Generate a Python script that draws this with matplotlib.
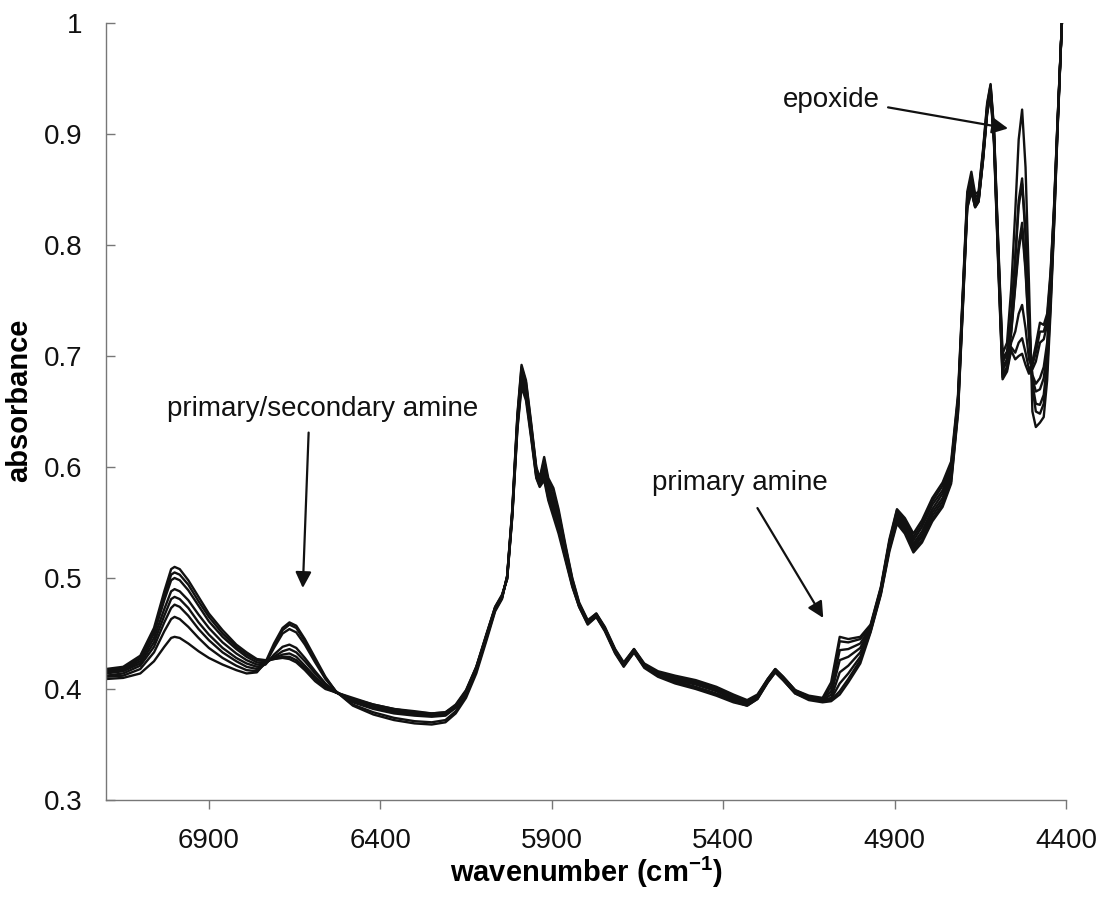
import matplotlib
matplotlib.use("Agg")
import matplotlib.pyplot as plt

# ---------------- data ----------------
wavenumber = [
    7200, 7150, 7100, 7060, 7030, 7010, 7000, 6985, 6960, 6930,
    6900, 6860, 6820, 6790, 6760, 6735, 6710, 6685, 6665, 6645,
    6620, 6590, 6560, 6530, 6480, 6420, 6360, 6300, 6250, 6210,
    6180, 6150, 6120, 6090, 6065, 6045, 6030, 6015, 6000, 5988,
    5975, 5960, 5945, 5935, 5922, 5910, 5895, 5880, 5860, 5840,
    5820, 5795, 5770, 5745, 5715, 5690, 5660, 5630, 5590, 5540,
    5480, 5420, 5370, 5330, 5300, 5270, 5248, 5225, 5190, 5150,
    5110, 5085, 5060, 5035, 5000, 4970, 4940, 4915, 4893, 4870,
    4845, 4820, 4790, 4760, 4735, 4715, 4700, 4688, 4676, 4665,
    4655, 4642, 4630, 4620, 4610, 4598, 4585, 4572, 4560, 4548,
    4538, 4528, 4518, 4508, 4498, 4488, 4476, 4465, 4455, 4445,
    4435, 4425, 4412]

spectrum_1 = [
    .409, .410, .414, .425, .438, .446, .447, .446, .441, .434,
    .428, .422, .417, .414, .415, .424, .441, .455, .460, .457,
    .445, .428, .411, .398, .385, .377, .372, .369, .368, .370,
    .378, .392, .414, .444, .470, .481, .502, .562, .648, .692,
    .678, .640, .600, .590, .609, .590, .581, .562, .530, .500,
    .478, .462, .468, .456, .436, .424, .436, .423, .416, .412,
    .408, .402, .395, .390, .395, .409, .418, .411, .399, .394,
    .392, .406, .447, .445, .447, .458, .492, .535, .562, .554,
    .540, .552, .572, .586, .605, .665, .765, .848, .866, .846,
    .848, .886, .928, .945, .905, .805, .702, .712, .760, .830,
    .895, .922, .870, .765, .650, .636, .640, .645, .678, .740,
    .815, .900, 1.0]

spectrum_2 = [
    .411, .412, .418, .433, .452, .463, .465, .463, .456, .446,
    .437, .428, .421, .417, .416, .423, .439, .453, .458, .455,
    .443, .426, .410, .398, .386, .379, .374, .371, .370, .372,
    .380, .394, .416, .446, .471, .482, .502, .561, .646, .690,
    .676, .638, .599, .589, .606, .587, .578, .559, .528, .499,
    .477, .461, .468, .455, .435, .423, .436, .422, .415, .411,
    .407, .401, .394, .389, .394, .409, .418, .411, .399, .393,
    .391, .402, .443, .442, .445, .457, .491, .533, .561, .552,
    .537, .549, .569, .583, .602, .662, .762, .845, .862, .843,
    .846, .884, .926, .944, .903, .802, .698, .704, .735, .790,
    .840, .860, .812, .735, .672, .650, .648, .657, .688, .746,
    .818, .902, 1.0]

spectrum_3 = [
    .412, .414, .421, .438, .460, .473, .476, .474, .466, .454,
    .444, .433, .425, .420, .418, .423, .437, .450, .454, .451,
    .440, .424, .409, .398, .388, .382, .378, .376, .375, .376,
    .383, .396, .418, .447, .472, .482, .501, .560, .644, .686,
    .673, .636, .597, .587, .603, .584, .574, .556, .526, .497,
    .476, .461, .467, .455, .435, .423, .435, .422, .414, .410,
    .406, .400, .393, .388, .393, .408, .417, .410, .398, .393,
    .391, .398, .435, .436, .441, .456, .490, .532, .559, .550,
    .534, .546, .566, .579, .599, .660, .760, .842, .858, .840,
    .844, .882, .924, .942, .901, .799, .694, .702, .732, .786,
    .835, .855, .808, .733, .675, .657, .656, .665, .694, .750,
    .820, .903, 1.0]

spectrum_4 = [
    .414, .416, .423, .442, .466, .481, .483, .481, .473, .460,
    .449, .437, .428, .423, .420, .422, .431, .438, .440, .437,
    .428, .416, .405, .397, .389, .383, .379, .377, .376, .377,
    .384, .397, .418, .448, .472, .483, .501, .559, .642, .684,
    .671, .634, .596, .586, .600, .581, .570, .552, .524, .496,
    .476, .460, .467, .454, .434, .422, .435, .421, .414, .409,
    .405, .399, .392, .387, .393, .408, .417, .410, .398, .392,
    .390, .395, .426, .429, .437, .455, .489, .530, .557, .548,
    .531, .542, .562, .576, .596, .657, .758, .840, .855, .838,
    .842, .880, .922, .940, .899, .796, .690, .697, .722, .765,
    .800, .820, .780, .720, .680, .668, .670, .680, .705, .757,
    .824, .905, 1.0]

spectrum_5 = [
    .415, .417, .425, .446, .472, .488, .490, .488, .480, .467,
    .455, .442, .432, .426, .422, .423, .429, .434, .436, .433,
    .425, .414, .404, .397, .390, .384, .380, .378, .377, .378,
    .384, .397, .419, .448, .473, .483, .500, .558, .640, .681,
    .668, .632, .594, .585, .597, .578, .566, .549, .522, .495,
    .475, .460, .466, .454, .434, .422, .434, .421, .413, .408,
    .404, .398, .391, .387, .392, .407, .416, .409, .397, .392,
    .390, .392, .415, .421, .433, .454, .488, .529, .555, .546,
    .529, .539, .559, .572, .593, .655, .755, .838, .852, .836,
    .841, .879, .921, .939, .897, .793, .687, .695, .720, .762,
    .795, .815, .776, .718, .683, .675, .680, .690, .712, .762,
    .826, .906, 1.0]

spectrum_6 = [
    .416, .418, .427, .450, .480, .498, .500, .498, .489, .475,
    .461, .447, .436, .429, .424, .424, .428, .431, .432, .429,
    .421, .411, .402, .397, .391, .385, .381, .379, .377, .378,
    .385, .398, .419, .449, .473, .484, .500, .557, .638, .678,
    .666, .630, .593, .584, .594, .575, .562, .546, .520, .494,
    .475, .459, .466, .453, .433, .421, .434, .420, .412, .407,
    .402, .396, .390, .386, .392, .407, .416, .409, .397, .391,
    .389, .391, .405, .414, .429, .453, .487, .527, .553, .544,
    .527, .537, .556, .569, .590, .652, .753, .836, .850, .835,
    .840, .878, .920, .938, .895, .790, .684, .690, .712, .722,
    .738, .746, .725, .697, .688, .695, .712, .715, .728, .770,
    .830, .908, 1.0]

spectrum_7 = [
    .417, .419, .428, .452, .484, .503, .505, .503, .494, .479,
    .465, .450, .438, .431, .426, .425, .427, .429, .429, .426,
    .419, .409, .401, .397, .391, .386, .382, .379, .378, .379,
    .385, .398, .420, .449, .474, .484, .499, .556, .636, .675,
    .663, .628, .591, .583, .591, .572, .558, .543, .518, .493,
    .474, .459, .465, .453, .433, .421, .433, .420, .412, .406,
    .401, .395, .389, .385, .391, .406, .415, .408, .396, .391,
    .389, .390, .398, .409, .426, .452, .486, .526, .551, .542,
    .525, .534, .553, .566, .587, .650, .751, .834, .849, .834,
    .839, .877, .919, .937, .893, .787, .681, .688, .708, .703,
    .712, .716, .703, .688, .692, .703, .722, .722, .733, .773,
    .832, .909, 1.0]

spectrum_8 = [
    .418, .420, .430, .455, .488, .508, .510, .508, .498, .483,
    .468, .453, .440, .433, .427, .426, .427, .428, .427, .424,
    .417, .407, .400, .397, .392, .386, .382, .380, .378, .379,
    .386, .399, .420, .450, .474, .485, .499, .555, .634, .672,
    .660, .626, .590, .582, .588, .570, .555, .540, .516, .492,
    .474, .458, .465, .452, .432, .420, .433, .419, .411, .405,
    .400, .394, .388, .385, .391, .406, .415, .408, .396, .390,
    .388, .389, .395, .406, .423, .451, .485, .524, .549, .540,
    .523, .532, .551, .564, .585, .648, .749, .833, .848, .834,
    .839, .876, .918, .936, .891, .784, .679, .686, .705, .697,
    .700, .702, .692, .684, .695, .710, .730, .728, .738, .776,
    .834, .910, 1.0]

spectra = [spectrum_1, spectrum_2, spectrum_3, spectrum_4,
           spectrum_5, spectrum_6, spectrum_7, spectrum_8]

x_ticks = [6900, 6400, 5900, 5400, 4900, 4400]
x_tick_labels = ["6900", "6400", "5900", "5400", "4900", "4400"]
y_ticks = [0.3, 0.4, 0.5, 0.6, 0.7, 0.8, 0.9, 1.0]
y_tick_labels = ["0.3", "0.4", "0.5", "0.6", "0.7", "0.8", "0.9", "1"]

for i, s in enumerate(spectra):
    if len(s) != len(wavenumber):
        raise ValueError(f"spectrum_{i+1} has {len(s)} values, expected {len(wavenumber)}")

# ---------------- styling ----------------
plt.rcParams["font.family"] = ["Liberation Sans", "DejaVu Sans"]
plt.rcParams["mathtext.fontset"] = "custom"
plt.rcParams["mathtext.rm"] = "Liberation Sans"
plt.rcParams["mathtext.bf"] = "Liberation Sans:bold"

fig = plt.figure(figsize=(11.01, 8.99), dpi=100)
ax = fig.add_axes([106 / 1101, 1 - 800 / 899, 960 / 1101, 777 / 899])

for s in spectra:
    ax.plot(wavenumber, s, color="#111111", lw=1.7, solid_joinstyle="round")

ax.set_xlim(7200, 4400)
ax.set_ylim(0.3, 1.0)
ax.set_xticks(x_ticks)
ax.set_xticklabels(x_tick_labels)
ax.set_yticks(y_ticks)
ax.set_yticklabels(y_tick_labels)

for side in ("top", "right"):
    ax.spines[side].set_visible(False)
for side in ("left", "bottom"):
    ax.spines[side].set_color("#777777")
    ax.spines[side].set_linewidth(1.0)

ax.tick_params(axis="y", direction="in", length=6.5, width=1, color="#777777",
               labelsize=20, pad=17, labelcolor="#111111")
ax.tick_params(axis="x", direction="out", length=6.5, width=1, color="#777777",
               labelsize=20, pad=14, labelcolor="#111111")

ax.set_xlabel(r"wavenumber (cm$^{\mathbf{-1}}$)", fontsize=21, fontweight="bold")
ax.xaxis.set_label_coords(0.5, -0.070)
ax.set_ylabel("absorbance", fontsize=21, fontweight="bold")
ax.yaxis.set_label_coords(-0.076, 0.515)

arrow_style = dict(arrowstyle="-|>", color="#111111", lw=1.6,
                   mutation_scale=24, shrinkA=0, shrinkB=0)

# primary/secondary amine
ax.text(6568, 0.652, "primary/secondary amine", fontsize=20,
        ha="center", va="center", color="#111111")
ax.annotate("", xy=(6626, 0.491), xytext=(6609, 0.631), arrowprops=arrow_style)

# primary amine
ax.text(5350, 0.586, "primary amine", fontsize=20,
        ha="center", va="center", color="#111111")
ax.annotate("", xy=(5108, 0.464), xytext=(5300, 0.563), arrowprops=arrow_style)

# epoxide
ax.text(4942, 0.931, "epoxide", fontsize=20,
        ha="right", va="center", color="#111111")
ax.annotate("", xy=(4569, 0.905), xytext=(4919, 0.924), arrowprops=arrow_style)

fig.savefig("out.png", dpi=100)
